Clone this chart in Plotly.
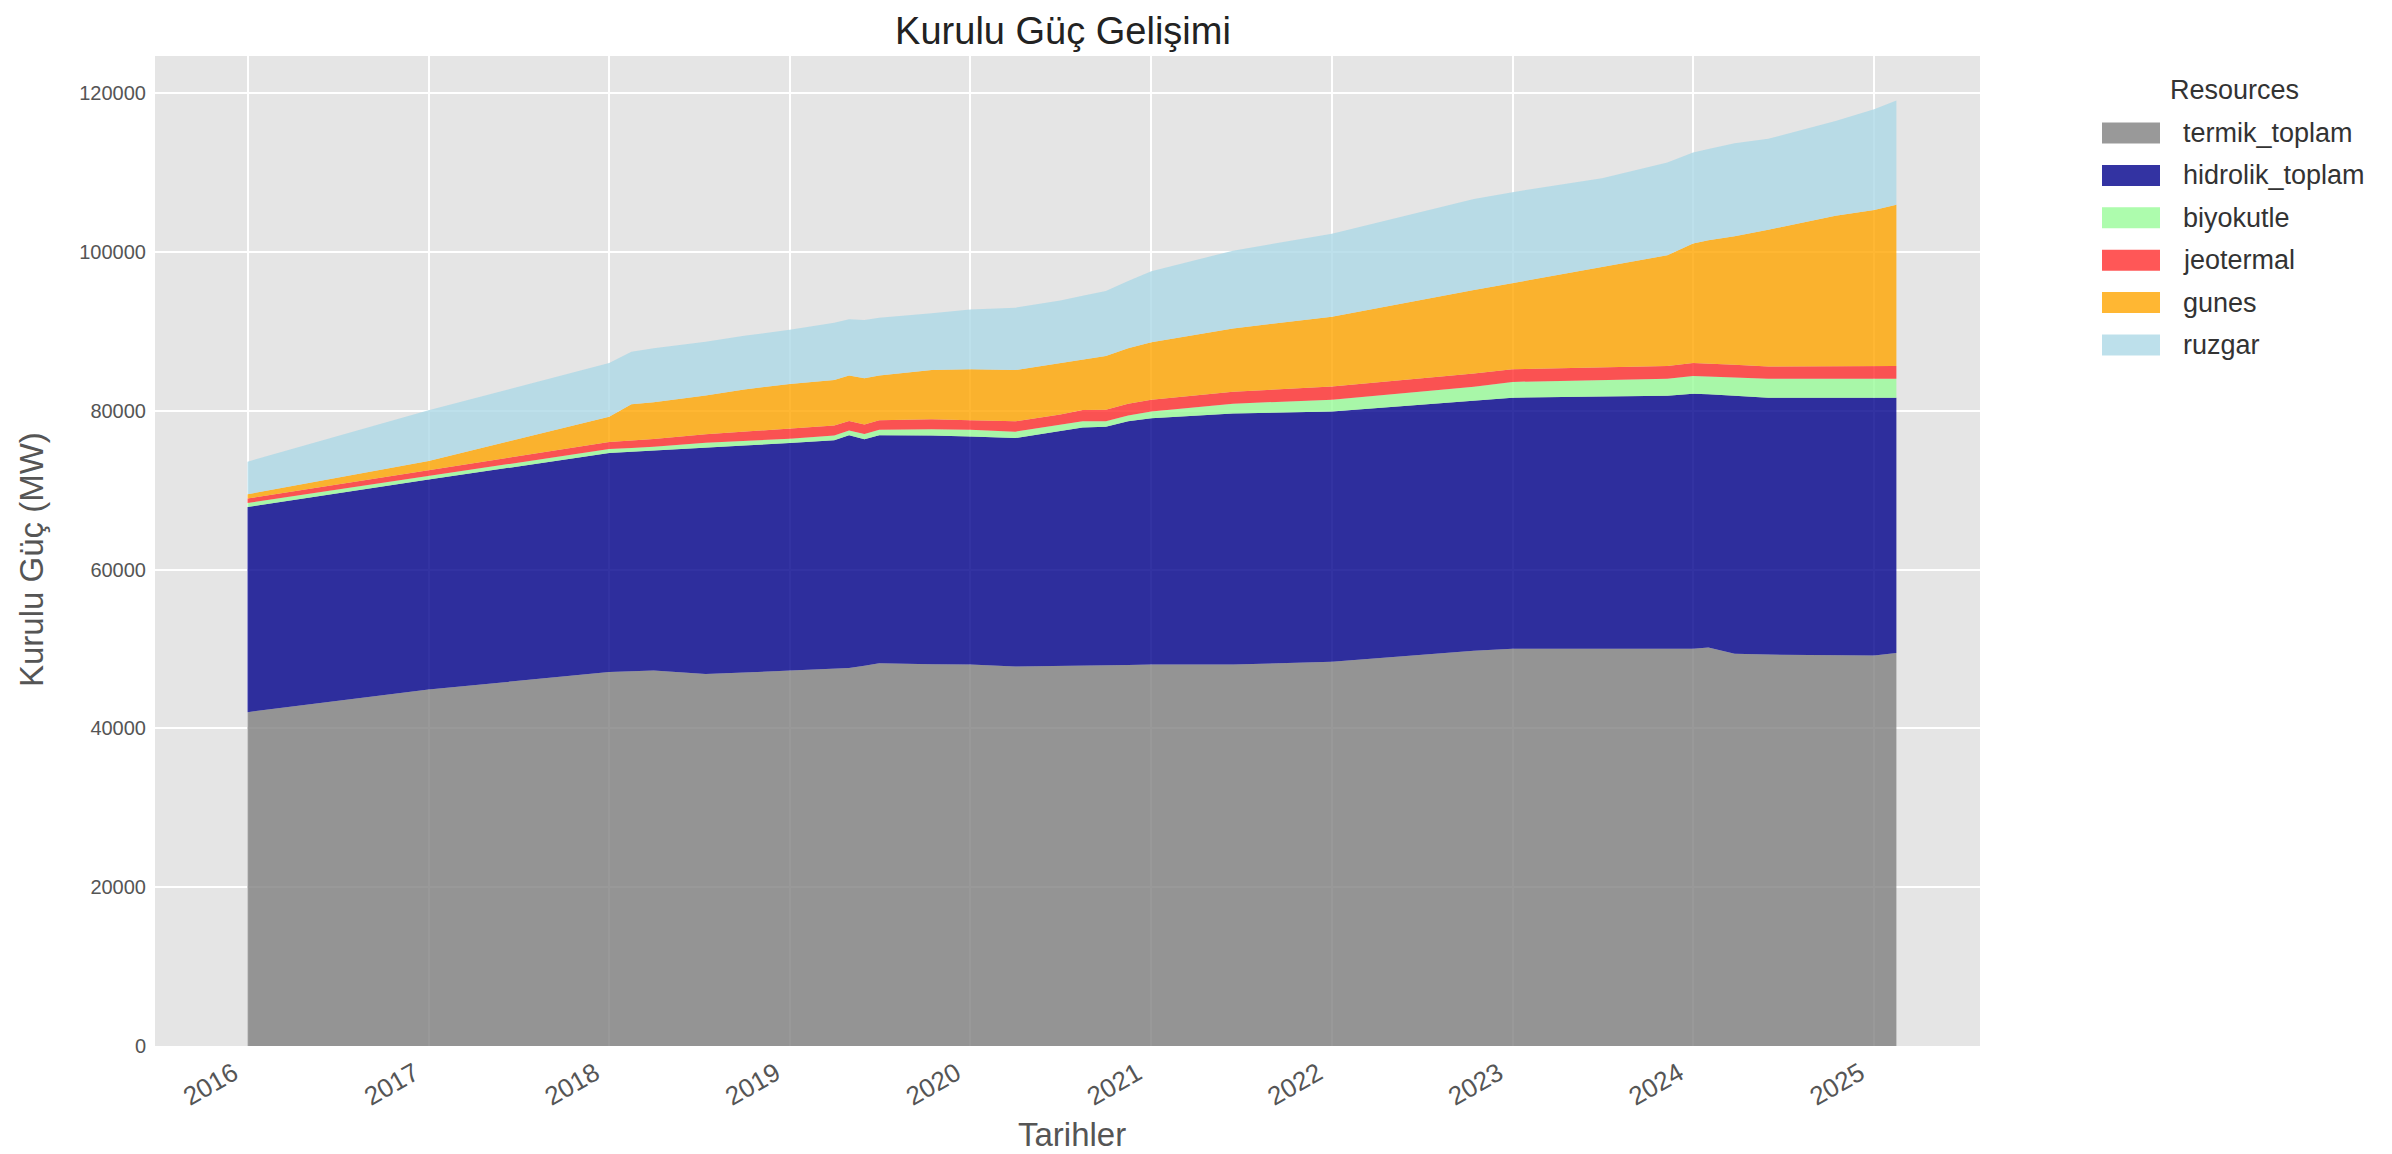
import plotly.graph_objects as go

dates = ["2016-01-01", "2017-01-01", "2018-01-01", "2018-02-15", "2018-04-01", "2018-07-15",
         "2018-10-01", "2019-01-01", "2019-04-01", "2019-05-01", "2019-06-01", "2019-07-01",
         "2019-10-15", "2020-01-01", "2020-04-01", "2020-07-01", "2020-08-15", "2020-10-01",
         "2020-11-15", "2021-01-01", "2021-06-15", "2022-01-01", "2022-10-15", "2023-01-01",
         "2023-07-01", "2023-11-10", "2024-01-01", "2024-02-01", "2024-03-25", "2024-06-01",
         "2024-10-15", "2025-01-01", "2025-02-15"]

termik_toplam = [42050, 44900, 47100, 47200, 47300, 46850, 47050, 47210, 47500, 47600, 47900,
                 48200, 48100, 48050, 47800, 47850, 47900, 47950, 48000, 48050, 48050, 48400,
                 49800, 50050, 50050, 50050, 50050, 50200, 49400, 49300, 49250, 49200, 49500]
hidrolik_toplam = [25850, 26450, 27590, 27650, 27700, 28600, 28600, 28730, 28800, 29330, 28530,
                   28730, 28800, 28730, 28780, 29600, 30000, 30050, 30680, 31020, 31620, 31520,
                   31530, 31610, 31750, 31860, 32110, 31900, 32500, 32360, 32410, 32460, 32160]
biyokutle = [500, 450, 500, 480, 480, 520, 550, 550, 600, 600, 650, 700, 800, 850, 800, 800,
             800, 700, 750, 850, 1240, 1490, 1700, 1990, 2050, 2140, 2240, 2250, 2300, 2390,
             2390, 2390, 2390]
jeotermal = [550, 750, 900, 950, 980, 1100, 1200, 1250, 1250, 1200, 1200, 1200, 1250, 1200,
             1300, 1300, 1400, 1450, 1480, 1490, 1500, 1650, 1670, 1600, 1600, 1600, 1640,
             1620, 1600, 1550, 1600, 1600, 1600]
gunes = [550, 1150, 3180, 4570, 4640, 4880, 5300, 5660, 5750, 5720, 5820, 5620, 6200, 6420,
         6470, 6500, 6400, 6750, 6970, 7220, 7970, 8810, 10530, 10850, 12640, 13940, 15040,
         15530, 16200, 17220, 18920, 19660, 20310]
ruzgar = [4100, 6370, 6770, 6600, 6800, 6750, 6750, 6830, 7200, 7100, 7350, 7270, 7150, 7520,
          7850, 7850, 8000, 8200, 8470, 8960, 9800, 10450, 11450, 11450, 11210, 11700, 11450,
          11500, 11700, 11450, 11940, 12690, 13140]

series_names = ["termik_toplam", "hidrolik_toplam", "biyokutle", "jeotermal", "gunes", "ruzgar"]
series_values = [termik_toplam, hidrolik_toplam, biyokutle, jeotermal, gunes, ruzgar]
series_colors = ["rgba(128,128,128,0.8)", "rgba(0,0,139,0.8)", "rgba(152,251,152,0.8)",
                 "rgba(255,45,45,0.8)", "rgba(255,165,0,0.8)", "rgba(173,216,230,0.8)"]

year_ticks = ["2016", "2017", "2018", "2019", "2020", "2021", "2022", "2023", "2024", "2025"]
y_ticks = [0, 20000, 40000, 60000, 80000, 100000, 120000]

W, H = 2392, 1154
L, R, T, B = 147, 1972, 48, 1038  # plot area in pixels
FONT = "Liberation Sans, Arial, Helvetica, sans-serif"

fig = go.Figure()
for name, vals, col in zip(series_names, series_values, series_colors):
    fig.add_trace(go.Scatter(
        x=dates, y=vals, name=name, mode="lines", stackgroup="one",
        line=dict(width=0, color=col), fillcolor=col, showlegend=False,
    ))

pw, ph = R - L, B - T
def px(xp):
    return (xp - L) / pw
def py(yp):
    return (B - yp) / ph

fig.update_layout(
    width=W, height=H,
    margin=dict(l=L, r=W - R, t=T, b=H - B, pad=0),
    paper_bgcolor="white", plot_bgcolor="#E5E5E5",
    font=dict(family=FONT, size=22, color="#555555"),
    title=dict(text="Kurulu Güç Gelişimi", x=1055 / W, xanchor="center",
               y=1 - 22.5 / H, yanchor="middle", font=dict(size=38, color="#222222")),
    xaxis=dict(
        type="date", range=["2015-06-28", "2025-08-03"],
        tickvals=[y + "-01-01" for y in year_ticks], ticktext=year_ticks,
        tickangle=-30, showgrid=True, gridcolor="white", gridwidth=1.6,
        zeroline=False, showline=False, ticks="outside", ticklen=1,
        tickcolor="rgba(0,0,0,0)", tickfont=dict(size=26, color="#555555"),
        ticklabelshift=-14,
    ),
    yaxis=dict(
        range=[0, 124700], tickvals=y_ticks, ticktext=[str(v) for v in y_ticks],
        showgrid=True, gridcolor="white", gridwidth=1.6, zeroline=False,
        showline=False, ticks="outside", ticklen=4, tickcolor="rgba(0,0,0,0)",
        tickfont=dict(size=20, color="#555555"),
    ),
)

annotations = [
    dict(text="Tarihler", x=px(1064), y=py(1126), xref="paper", yref="paper",
         xanchor="center", yanchor="middle", showarrow=False,
         font=dict(size=33, color="#555555", family=FONT)),
    dict(text="Kurulu Güç (MW)", x=px(23), y=py(552), xref="paper", yref="paper",
         xanchor="center", yanchor="middle", textangle=-90, showarrow=False,
         font=dict(size=33, color="#555555", family=FONT)),
    dict(text="Resources", x=px(2226), y=py(82), xref="paper", yref="paper",
         xanchor="center", yanchor="middle", showarrow=False,
         font=dict(size=27, color="#333333", family=FONT)),
]
shapes = []
for i, (name, col) in enumerate(zip(series_names, series_colors)):
    cy = 125 + 42.4 * i
    shapes.append(dict(type="rect", xref="paper", yref="paper",
                       x0=px(2094), x1=px(2152), y0=py(cy - 10.5), y1=py(cy + 10.5),
                       fillcolor=col, line=dict(width=0)))
    annotations.append(dict(text=name, x=px(2173), y=py(cy), xref="paper", yref="paper",
                            xanchor="left", yanchor="middle", showarrow=False,
                            font=dict(size=27, color="#333333", family=FONT)))
fig.update_layout(annotations=annotations, shapes=shapes)

fig.write_html("out.html")
